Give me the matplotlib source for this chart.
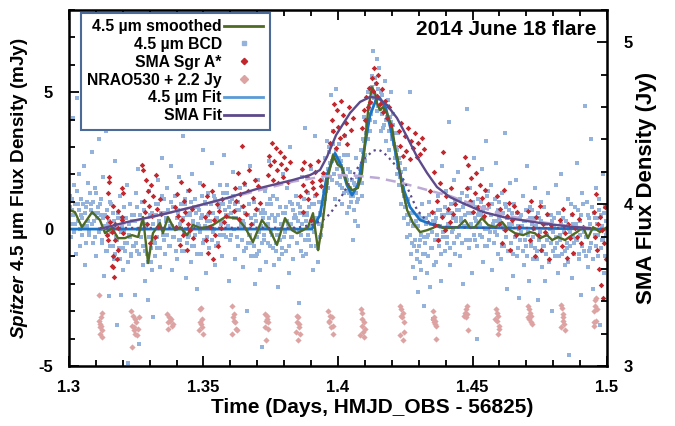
import matplotlib
matplotlib.use("Agg")
import matplotlib.pyplot as plt
from matplotlib.lines import Line2D
from matplotlib.ticker import MultipleLocator, FuncFormatter

plt.rcParams['font.family'] = ['Liberation Sans', 'DejaVu Sans']
plt.rcParams['font.weight'] = 'bold'
plt.rcParams['axes.unicode_minus'] = False
plt.rcParams['mathtext.fontset'] = 'custom'
plt.rcParams['mathtext.it'] = 'Liberation Sans:italic:bold'
plt.rcParams['mathtext.rm'] = 'Liberation Sans:bold'

# ---------------- data ----------------
# Spitzer 4.5 um BCD photometry (days, mJy), two interleaved frame sets
bcd_t = [
    1.3002, 1.3006, 1.3010, 1.3014, 1.3018, 1.3022, 1.3026, 1.3030, 1.3034, 1.3038,
    1.3042, 1.3046, 1.3050, 1.3054, 1.3058, 1.3062, 1.3066, 1.3070, 1.3074, 1.3078,
    1.3082, 1.3086, 1.3090, 1.3094, 1.3098, 1.3102, 1.3106, 1.3110, 1.3114, 1.3118,
    1.3122, 1.3126, 1.3130, 1.3134, 1.3138, 1.3142, 1.3146, 1.3150, 1.3154, 1.3158,
    1.3162, 1.3166, 1.3170, 1.3174, 1.3178, 1.3182, 1.3186, 1.3190, 1.3194, 1.3198,
    1.3202, 1.3206, 1.3210, 1.3214, 1.3218, 1.3222, 1.3226, 1.3230, 1.3234, 1.3238,
    1.3242, 1.3246, 1.3250, 1.3254, 1.3258, 1.3262, 1.3266, 1.3270, 1.3274, 1.3278,
    1.3282, 1.3286, 1.3290, 1.3294, 1.3298, 1.3302, 1.3306, 1.3310, 1.3314, 1.3318,
    1.3322, 1.3326, 1.3330, 1.3334, 1.3338, 1.3342, 1.3346, 1.3350, 1.3354, 1.3358,
    1.3362, 1.3366, 1.3370, 1.3374, 1.3378, 1.3382, 1.3386, 1.3390, 1.3394, 1.3398,
    1.3402, 1.3406, 1.3410, 1.3414, 1.3418, 1.3422, 1.3426, 1.3430, 1.3434, 1.3438,
    1.3442, 1.3446, 1.3450, 1.3454, 1.3458, 1.3462, 1.3466, 1.3470, 1.3474, 1.3478,
    1.3482, 1.3486, 1.3490, 1.3494, 1.3498, 1.3502, 1.3506, 1.3510, 1.3514, 1.3518,
    1.3522, 1.3526, 1.3530, 1.3534, 1.3538, 1.3542, 1.3546, 1.3550, 1.3554, 1.3558,
    1.3562, 1.3566, 1.3570, 1.3574, 1.3578, 1.3582, 1.3586, 1.3590, 1.3594, 1.3598,
    1.3602, 1.3606, 1.3610, 1.3614, 1.3618, 1.3622, 1.3626, 1.3630, 1.3634, 1.3638,
    1.3642, 1.3646, 1.3650, 1.3654, 1.3658, 1.3662, 1.3666, 1.3670, 1.3674, 1.3678,
    1.3682, 1.3686, 1.3690, 1.3694, 1.3698, 1.3702, 1.3706, 1.3710, 1.3714, 1.3718,
    1.3722, 1.3726, 1.3730, 1.3734, 1.3738, 1.3742, 1.3746, 1.3750, 1.3754, 1.3758,
    1.3762, 1.3766, 1.3770, 1.3774, 1.3778, 1.3782, 1.3786, 1.3790, 1.3794, 1.3798,
    1.3802, 1.3806, 1.3810, 1.3814, 1.3818, 1.3822, 1.3826, 1.3830, 1.3834, 1.3838,
    1.3842, 1.3846, 1.3850, 1.3854, 1.3858, 1.3862, 1.3866, 1.3870, 1.3874, 1.3878,
    1.3882, 1.3886, 1.3890, 1.3894, 1.3898, 1.3902, 1.3906, 1.3910, 1.3914, 1.3918,
    1.3922, 1.3926, 1.3930, 1.3934, 1.3938, 1.3942, 1.3946, 1.3950, 1.3954, 1.3958,
    1.3962, 1.3966, 1.3970, 1.3974, 1.3978, 1.3982, 1.3986, 1.3990, 1.3994, 1.3998,
    1.4002, 1.4006, 1.4010, 1.4014, 1.4018, 1.4022, 1.4026, 1.4030, 1.4034, 1.4038,
    1.4042, 1.4046, 1.4050, 1.4054, 1.4058, 1.4062, 1.4066, 1.4070, 1.4074, 1.4078,
    1.4082, 1.4086, 1.4090, 1.4094, 1.4098, 1.4102, 1.4106, 1.4110, 1.4114, 1.4118,
    1.4122, 1.4126, 1.4130, 1.4134, 1.4138, 1.4142, 1.4146, 1.4150, 1.4154, 1.4158,
    1.4162, 1.4166, 1.4170, 1.4174, 1.4178, 1.4182, 1.4186, 1.4190, 1.4194, 1.4198,
    1.4202, 1.4206, 1.4210, 1.4214, 1.4218, 1.4222, 1.4226, 1.4230, 1.4234, 1.4238,
    1.4242, 1.4246, 1.4250, 1.4254, 1.4258, 1.4262, 1.4266, 1.4270, 1.4274, 1.4278,
    1.4282, 1.4286, 1.4290, 1.4294, 1.4298, 1.4302, 1.4306, 1.4310, 1.4314, 1.4318,
    1.4322, 1.4326, 1.4330, 1.4334, 1.4338, 1.4342, 1.4346, 1.4350, 1.4354, 1.4358,
    1.4362, 1.4366, 1.4370, 1.4374, 1.4378, 1.4382, 1.4386, 1.4390, 1.4394, 1.4398,
    1.4402, 1.4406, 1.4410, 1.4414, 1.4418, 1.4422, 1.4426, 1.4430, 1.4434, 1.4438,
    1.4442, 1.4446, 1.4450, 1.4454, 1.4458, 1.4462, 1.4466, 1.4470, 1.4474, 1.4478,
    1.4482, 1.4486, 1.4490, 1.4494, 1.4498, 1.4502, 1.4506, 1.4510, 1.4514, 1.4518,
    1.4522, 1.4526, 1.4530, 1.4534, 1.4538, 1.4542, 1.4546, 1.4550, 1.4554, 1.4558,
    1.4562, 1.4566, 1.4570, 1.4574, 1.4578, 1.4582, 1.4586, 1.4590, 1.4594, 1.4598,
    1.4602, 1.4606, 1.4610, 1.4614, 1.4618, 1.4622, 1.4626, 1.4630, 1.4634, 1.4638,
    1.4642, 1.4646, 1.4650, 1.4654, 1.4658, 1.4662, 1.4666, 1.4670, 1.4674, 1.4678,
    1.4682, 1.4686, 1.4690, 1.4694, 1.4698, 1.4702, 1.4706, 1.4710, 1.4714, 1.4718,
    1.4722, 1.4726, 1.4730, 1.4734, 1.4738, 1.4742, 1.4746, 1.4750, 1.4754, 1.4758,
    1.4762, 1.4766, 1.4770, 1.4774, 1.4778, 1.4782, 1.4786, 1.4790, 1.4794, 1.4798,
    1.4802, 1.4806, 1.4810, 1.4814, 1.4818, 1.4822, 1.4826, 1.4830, 1.4834, 1.4838,
    1.4842, 1.4846, 1.4850, 1.4854, 1.4858, 1.4862, 1.4866, 1.4870, 1.4874, 1.4878,
    1.4882, 1.4886, 1.4890, 1.4894, 1.4898, 1.4902, 1.4906, 1.4910, 1.4914, 1.4918,
    1.4922, 1.4926, 1.4930, 1.4934, 1.4938, 1.4942, 1.4946, 1.4950, 1.4954, 1.4958,
    1.4962, 1.4966, 1.4970, 1.4974, 1.4978, 1.4982, 1.4986, 1.4990, 1.4994, 1.4998,
]
bcd_flux = [
    1.2, -0.3, 0.7, 4.05, 1.6, 0.2, -0.9, 4.8, 0.9, 2.0,
    -0.6, 1.1, 0.4, 2.3, -1.3, 0.8, 0.1, 1.7, -0.2, 1.3,
    0.9, 2.8, -0.5, 0.3, 1.5, -1.0, 0.6, 3.3, 0.0, 1.1,
    -0.4, 1.9, -1.7, 0.5, 3.6, -0.8, 0.2, -2.45, 1.0, -0.1,
    0.6, -1.1, 2.5, -0.3, -3.5, 0.4, -0.7, 1.2, -2.4, 0.1,
    -1.5, 0.8, -0.5, 1.6, -4.9, -0.2, 0.9, -1.0, 0.3, -0.6,
    0.5, -2.4, 1.3, -0.8, 2.2, -4.2, 0.0, 1.0, -1.3, 0.7,
    -1.9, 0.2, -0.9, -2.6, 1.4, -0.3, -1.2, 0.6, -3.2, -0.5,
    0.9, -0.7, 1.8, 0.3, -1.4, 0.6, 2.6, -0.2, 1.1, -0.9,
    0.4, 1.5, -0.6, 0.1, 2.3, -1.5, 0.8, -0.3, 1.2, 0.0,
    -1.1, 0.7, 1.9, -0.4, 0.3, 3.4, -0.8, 0.9, -1.8, 0.5,
    1.4, -0.2, 0.6, -1.2, 2.0, 0.2, -0.6, 1.1, -2.2, 0.8,
    0.1, 1.7, -0.9, 0.5, 2.9, -0.4, 1.0, -1.6, 0.3, 1.3,
    -0.7, 0.6, 2.4, -0.1, 1.2, -1.3, 0.4, 3.8, -0.5, 0.9,
    1.6, 0.2, -1.0, 0.9, 2.7, -0.3, 1.3, 0.5, -1.9, 1.0,
    -0.2, 1.1, 2.1, 0.4, -1.1, 4.0, 0.7, -0.6, 1.5, 0.1,
    0.8, -1.4, 0.2, 1.6, -0.7, -3.0, 0.5, -0.2, 2.3, -1.0,
    -0.5, 1.0, -2.0, 0.3, -0.9, 1.8, -0.1, -1.5, 0.6, -4.3,
    0.7, -0.4, 1.4, -1.2, 0.2, 2.5, -0.6, 0.9, -0.2, 1.2,
    -1.3, 0.4, -0.5, 1.1, -2.1, 0.0, 0.8, -0.9, 2.0, -0.3,
    0.6, -0.8, 1.5, 0.2, -1.6, 3.0, -0.3, 0.9, -1.1, 0.4,
    1.2, -0.5, 0.3, -2.7, 0.8, -0.2, 1.9, -1.0, 0.5, 3.7,
    -0.9, 0.6, 1.3, -0.4, 2.2, 0.1, -1.5, 0.9, 3.4, -0.6,
    0.3, -1.2, 1.0, 0.6, -0.2, 1.8, 0.9, 2.6, 1.4, 3.2,
    1.5, 3.0, 2.4, 4.9, 1.8, 3.6, 2.7, 1.1, 5.1, 2.2,
    3.1, 1.6, 2.5, 0.9, 2.2, 1.3, 3.4, 1.9, 0.6, 2.7,
    0.8, 2.1, 1.2, -0.4, 1.7, 0.3, 2.6, 1.0, 0.1, 1.9,
    1.8, 2.9, 1.2, 3.3, 4.1, 2.7, 3.8, 5.0, 4.4, 3.6,
    4.2, 5.6, 6.5, 4.8, 3.9, 5.3, 6.2, 4.5, 5.9, 3.6,
    4.9, 3.7, 4.5, 5.4, 3.2, 4.1, 4.7, 2.9, 3.9, 5.0,
    3.3, 4.2, 2.6, 3.0, 2.0, 3.5, 1.6, 2.4, 0.9, 1.8,
    1.5, 0.4, 2.2, 0.8, -0.3, 1.1, 5.0, -0.9, 0.6, -1.4,
    -0.6, -1.8, 0.3, -1.1, -2.3, 0.5, -0.4, -1.5, 0.9, -2.8,
    -0.9, 0.4, -1.6, -0.2, 1.0, -2.1, 0.2, -0.7, -3.3, 0.6,
    0.3, -1.2, 1.2, -0.4, 0.7, -1.9, 2.3, -0.1, 0.5, -0.8,
    1.4, -0.5, 0.2, 3.9, -1.3, 0.6, 0.0, 1.8, -0.9, 0.4,
    -0.3, 2.1, 0.7, -1.0, 0.4, 1.3, -2.0, 0.9, 0.1, 4.4,
    0.6, -0.7, 1.5, 0.2, -1.6, 0.9, 2.6, -0.4, 0.3, -4.0,
    1.1, -0.2, 0.5, 2.2, -1.2, 0.8, 0.0, 3.2, -0.6, 1.4,
    -0.4, 0.9, 1.6, -1.5, 0.3, -0.1, 2.4, 0.6, -0.9, 1.0,
    0.5, -1.1, 1.3, 0.1, -0.6, 3.5, 0.8, -2.2, 0.2, 1.7,
    -0.8, 0.6, -1.7, 0.9, -0.3, 1.8, -1.0, 0.1, -2.5, 0.4,
    -0.1, 1.2, -1.3, 0.3, -0.6, 2.3, -0.2, -1.9, 0.8, -0.5,
    0.7, -1.1, 0.0, 1.5, -0.8, -2.6, 0.4, -0.3, 1.0, -1.4,
    -0.6, 0.8, -1.9, 0.2, -0.4, 1.3, -1.2, 0.5, -3.0, -0.1,
    0.4, -1.0, 1.6, -0.5, -1.6, 0.6, -0.2, 2.0, -0.9, 0.1,
    -1.3, 0.3, -0.7, 1.1, -4.6, -0.1, 0.9, -1.8, 0.2, -0.5,
    0.8, -0.4, 2.4, -1.1, 0.3, -2.4, 1.3, 0.0, -0.8, 4.5,
    -0.3, 1.0, -1.4, 0.4, -0.7, 3.3, -2.2, 0.6, -0.2, 1.5,
    0.2, -1.0, 1.1, -3.5, 0.5, -0.4, 2.0, -1.6, 0.8, -0.2,
]
bcd2_t = [
    1.3004, 1.3008, 1.3012, 1.3016, 1.3020, 1.3024, 1.3028, 1.3032, 1.3036, 1.3040,
    1.3044, 1.3048, 1.3052, 1.3056, 1.3060, 1.3064, 1.3068, 1.3072, 1.3076, 1.3080,
    1.3084, 1.3088, 1.3092, 1.3096, 1.3100, 1.3104, 1.3108, 1.3112, 1.3116, 1.3120,
    1.3124, 1.3128, 1.3132, 1.3136, 1.3140, 1.3144, 1.3148, 1.3152, 1.3156, 1.3160,
    1.3164, 1.3168, 1.3172, 1.3176, 1.3180, 1.3184, 1.3188, 1.3192, 1.3196, 1.3200,
    1.3204, 1.3208, 1.3212, 1.3216, 1.3220, 1.3224, 1.3228, 1.3232, 1.3236, 1.3240,
    1.3244, 1.3248, 1.3252, 1.3256, 1.3260, 1.3264, 1.3268, 1.3272, 1.3276, 1.3280,
    1.3284, 1.3288, 1.3292, 1.3296, 1.3300, 1.3304, 1.3308, 1.3312, 1.3316, 1.3320,
    1.3324, 1.3328, 1.3332, 1.3336, 1.3340, 1.3344, 1.3348, 1.3352, 1.3356, 1.3360,
    1.3364, 1.3368, 1.3372, 1.3376, 1.3380, 1.3384, 1.3388, 1.3392, 1.3396, 1.3400,
    1.3404, 1.3408, 1.3412, 1.3416, 1.3420, 1.3424, 1.3428, 1.3432, 1.3436, 1.3440,
    1.3444, 1.3448, 1.3452, 1.3456, 1.3460, 1.3464, 1.3468, 1.3472, 1.3476, 1.3480,
    1.3484, 1.3488, 1.3492, 1.3496, 1.3500, 1.3504, 1.3508, 1.3512, 1.3516, 1.3520,
    1.3524, 1.3528, 1.3532, 1.3536, 1.3540, 1.3544, 1.3548, 1.3552, 1.3556, 1.3560,
    1.3564, 1.3568, 1.3572, 1.3576, 1.3580, 1.3584, 1.3588, 1.3592, 1.3596, 1.3600,
    1.3604, 1.3608, 1.3612, 1.3616, 1.3620, 1.3624, 1.3628, 1.3632, 1.3636, 1.3640,
    1.3644, 1.3648, 1.3652, 1.3656, 1.3660, 1.3664, 1.3668, 1.3672, 1.3676, 1.3680,
    1.3684, 1.3688, 1.3692, 1.3696, 1.3700, 1.3704, 1.3708, 1.3712, 1.3716, 1.3720,
    1.3724, 1.3728, 1.3732, 1.3736, 1.3740, 1.3744, 1.3748, 1.3752, 1.3756, 1.3760,
    1.3764, 1.3768, 1.3772, 1.3776, 1.3780, 1.3784, 1.3788, 1.3792, 1.3796, 1.3800,
    1.3804, 1.3808, 1.3812, 1.3816, 1.3820, 1.3824, 1.3828, 1.3832, 1.3836, 1.3840,
    1.3844, 1.3848, 1.3852, 1.3856, 1.3860, 1.3864, 1.3868, 1.3872, 1.3876, 1.3880,
    1.3884, 1.3888, 1.3892, 1.3896, 1.3900, 1.3904, 1.3908, 1.3912, 1.3916, 1.3920,
    1.3924, 1.3928, 1.3932, 1.3936, 1.3940, 1.3944, 1.3948, 1.3952, 1.3956, 1.3960,
    1.3964, 1.3968, 1.3972, 1.3976, 1.3980, 1.3984, 1.3988, 1.3992, 1.3996, 1.4000,
    1.4004, 1.4008, 1.4012, 1.4016, 1.4020, 1.4024, 1.4028, 1.4032, 1.4036, 1.4040,
    1.4044, 1.4048, 1.4052, 1.4056, 1.4060, 1.4064, 1.4068, 1.4072, 1.4076, 1.4080,
    1.4084, 1.4088, 1.4092, 1.4096, 1.4100, 1.4104, 1.4108, 1.4112, 1.4116, 1.4120,
    1.4124, 1.4128, 1.4132, 1.4136, 1.4140, 1.4144, 1.4148, 1.4152, 1.4156, 1.4160,
    1.4164, 1.4168, 1.4172, 1.4176, 1.4180, 1.4184, 1.4188, 1.4192, 1.4196, 1.4200,
    1.4204, 1.4208, 1.4212, 1.4216, 1.4220, 1.4224, 1.4228, 1.4232, 1.4236, 1.4240,
    1.4244, 1.4248, 1.4252, 1.4256, 1.4260, 1.4264, 1.4268, 1.4272, 1.4276, 1.4280,
    1.4284, 1.4288, 1.4292, 1.4296, 1.4300, 1.4304, 1.4308, 1.4312, 1.4316, 1.4320,
    1.4324, 1.4328, 1.4332, 1.4336, 1.4340, 1.4344, 1.4348, 1.4352, 1.4356, 1.4360,
    1.4364, 1.4368, 1.4372, 1.4376, 1.4380, 1.4384, 1.4388, 1.4392, 1.4396, 1.4400,
    1.4404, 1.4408, 1.4412, 1.4416, 1.4420, 1.4424, 1.4428, 1.4432, 1.4436, 1.4440,
    1.4444, 1.4448, 1.4452, 1.4456, 1.4460, 1.4464, 1.4468, 1.4472, 1.4476, 1.4480,
    1.4484, 1.4488, 1.4492, 1.4496, 1.4500, 1.4504, 1.4508, 1.4512, 1.4516, 1.4520,
    1.4524, 1.4528, 1.4532, 1.4536, 1.4540, 1.4544, 1.4548, 1.4552, 1.4556, 1.4560,
    1.4564, 1.4568, 1.4572, 1.4576, 1.4580, 1.4584, 1.4588, 1.4592, 1.4596, 1.4600,
    1.4604, 1.4608, 1.4612, 1.4616, 1.4620, 1.4624, 1.4628, 1.4632, 1.4636, 1.4640,
    1.4644, 1.4648, 1.4652, 1.4656, 1.4660, 1.4664, 1.4668, 1.4672, 1.4676, 1.4680,
    1.4684, 1.4688, 1.4692, 1.4696, 1.4700, 1.4704, 1.4708, 1.4712, 1.4716, 1.4720,
    1.4724, 1.4728, 1.4732, 1.4736, 1.4740, 1.4744, 1.4748, 1.4752, 1.4756, 1.4760,
    1.4764, 1.4768, 1.4772, 1.4776, 1.4780, 1.4784, 1.4788, 1.4792, 1.4796, 1.4800,
    1.4804, 1.4808, 1.4812, 1.4816, 1.4820, 1.4824, 1.4828, 1.4832, 1.4836, 1.4840,
    1.4844, 1.4848, 1.4852, 1.4856, 1.4860, 1.4864, 1.4868, 1.4872, 1.4876, 1.4880,
    1.4884, 1.4888, 1.4892, 1.4896, 1.4900, 1.4904, 1.4908, 1.4912, 1.4916, 1.4920,
    1.4924, 1.4928, 1.4932, 1.4936, 1.4940, 1.4944, 1.4948, 1.4952, 1.4956, 1.4960,
    1.4964, 1.4968, 1.4972, 1.4976, 1.4980, 1.4984, 1.4988, 1.4992, 1.4996, 1.5000,
]
bcd2_flux = [
    0.8, 0.2, 1.1, 0.5, -0.1, 0.9, 1.4, 0.3, 0.7, 0.0,
    0.5, -0.2, 0.9, 0.1, 0.6, -0.5, 1.0, 0.3, -0.1, 0.7,
    0.2, 1.0, 0.6, -0.3, 1.3, 0.4, 0.8, -0.1, 0.9, 0.5,
    -0.5, 0.4, 0.1, -0.8, 0.7, -0.2, 0.3, -0.6, 0.9, 0.0,
    -0.6, 0.3, -0.9, 0.1, -0.4, 0.6, -1.1, -0.1, 0.4, -0.7,
    -0.1, -0.8, 0.4, -0.5, -1.2, 0.2, -0.3, -0.9, 0.5, -0.6,
    0.3, -0.5, 0.8, 0.0, -0.9, 0.5, -0.3, 1.0, -0.6, 0.2,
    -0.8, 0.1, -1.2, -0.3, 0.5, -0.7, -1.5, 0.2, -0.4, -1.0,
    0.5, -0.3, 0.9, 0.2, -0.7, 1.2, 0.0, -0.4, 0.6, 0.3,
    -0.2, 0.7, 0.3, -0.6, 1.0, 0.1, -0.3, 0.8, -0.8, 0.4,
    0.6, -0.4, 0.2, 0.9, -0.8, 0.4, -0.1, 1.1, 0.0, -0.5,
    -0.3, 0.5, 1.0, -0.6, 0.3, 0.8, -0.2, 0.6, -0.9, 0.2,
    0.7, -0.1, 0.4, 1.2, -0.5, 0.1, 0.9, -0.3, 0.5, -0.7,
    0.3, 0.9, -0.4, 0.6, 0.0, 1.1, -0.6, 0.4, 0.8, -0.2,
    0.9, 0.3, 1.3, -0.2, 0.7, 0.5, 1.6, 0.1, 0.8, -0.4,
    0.6, 1.2, 0.0, 0.9, 0.4, -0.3, 1.0, 0.7, 1.5, 0.2,
    -0.4, 0.3, -0.8, 0.6, 0.0, -0.5, 0.9, -0.2, 0.4, -1.0,
    0.2, -0.6, 0.5, -1.0, -0.3, 0.7, -0.8, 0.1, -0.5, 0.4,
    -0.2, 0.6, 0.1, 0.9, -0.5, 0.4, 1.1, -0.1, 0.5, -0.7,
    0.3, -0.8, -0.2, 0.5, -1.1, -0.4, 0.2, -0.7, 0.6, -0.3,
    -0.1, 0.8, 0.3, -0.6, 1.0, 0.2, -0.3, 0.7, 0.0, 0.5,
    0.4, -0.5, 0.9, -0.1, 0.6, -0.8, 0.2, 1.1, -0.4, 0.3,
    0.5, -0.2, 0.8, 0.1, -0.6, 0.9, 0.3, -0.1, 1.2, 0.4,
    -0.7, 0.2, -0.3, 0.5, 0.1, 0.9, 1.4, 1.1, 2.0, 1.7,
    2.2, 2.8, 1.9, 2.5, 3.1, 2.0, 2.6, 2.9, 1.7, 2.4,
    2.6, 1.9, 2.3, 1.5, 2.0, 2.7, 1.4, 1.8, 2.2, 1.3,
    1.5, 1.0, 1.8, 1.2, 0.7, 1.6, 1.3, 1.9, 1.1, 2.2,
    2.3, 1.7, 2.8, 3.2, 2.5, 3.5, 3.9, 3.3, 4.5, 4.0,
    4.6, 5.2, 4.9, 5.5, 4.7, 4.3, 5.1, 4.8, 4.4, 5.0,
    4.2, 4.6, 3.8, 4.4, 4.0, 4.5, 3.6, 4.1, 3.9, 3.4,
    3.8, 3.1, 3.5, 2.7, 2.9, 2.3, 2.6, 1.9, 2.1, 1.4,
    1.2, 0.8, 1.0, 0.5, 0.2, 0.6, -0.2, 0.3, -0.5, 0.1,
    0.2, -0.4, -0.8, 0.1, -0.6, -1.2, -0.2, 0.4, -0.9, -0.3,
    -0.5, 0.2, -0.3, -1.0, 0.5, -0.7, -0.1, 0.3, -1.3, -0.4,
    0.4, -0.2, 0.7, -0.6, 0.1, -0.9, 0.5, -0.3, 0.8, 0.0,
    -0.3, 0.6, 0.2, -0.7, 0.9, -0.1, 0.4, -0.5, 1.0, 0.3,
    0.7, -0.2, 1.1, 0.3, -0.5, 0.8, 0.1, 0.5, -0.4, 1.2,
    0.1, 0.9, -0.4, 0.6, 1.0, -0.2, 0.4, 0.8, -0.6, 0.5,
    0.6, 0.2, 1.0, -0.3, 0.7, 0.4, -0.6, 1.2, 0.0, 0.8,
    -0.1, 0.5, 0.9, 0.2, -0.5, 1.1, 0.3, -0.2, 0.7, 0.4,
    0.3, -0.6, 0.6, 0.0, 0.9, -0.3, 0.4, -0.8, 0.7, 0.1,
    -0.5, 0.2, -0.9, 0.4, -0.2, 0.6, -0.7, 0.0, -0.4, 0.5,
    0.1, -0.8, 0.3, -0.4, 0.7, -1.0, -0.1, 0.4, -0.6, 0.2,
    -0.3, 0.4, -0.7, 0.1, -1.1, 0.6, -0.4, -0.1, 0.3, -0.8,
    -0.6, 0.2, -0.9, -0.2, 0.5, -1.2, 0.0, -0.5, 0.3, -0.8,
    0.1, -0.7, -0.3, 0.6, -1.0, -0.4, 0.2, -0.9, 0.4, -0.1,
    -0.8, 0.3, -0.5, -1.2, 0.0, -0.6, 0.5, -0.3, -0.9, 0.2,
    0.2, -0.4, 0.7, -0.9, -0.2, 0.5, -0.6, 0.9, -0.1, -1.0,
    -0.3, 0.5, -0.8, 0.2, -0.5, 0.8, -1.1, 0.0, 0.4, -0.6,
    0.4, -0.2, 0.7, -0.7, 0.1, -0.4, 0.6, -1.0, 0.3, -0.1,
]

# 4.5 um smoothed light curve (mJy)
smooth_t = [1.3004, 1.3022, 1.3048, 1.3086, 1.3115, 1.3134, 1.3160, 1.3182, 1.3208, 1.3234,
            1.3257, 1.3275, 1.3294, 1.3312, 1.3338, 1.3349, 1.3368, 1.3394, 1.3413, 1.3439,
            1.3461, 1.3487, 1.3513, 1.3535, 1.3580, 1.3625, 1.3654, 1.3684, 1.3717, 1.3747,
            1.3773, 1.3803, 1.3829, 1.3848, 1.3870, 1.3888, 1.3907, 1.3926, 1.3944, 1.3963,
            1.3981, 1.4000, 1.4015, 1.4033, 1.4052, 1.4074, 1.4089, 1.4100, 1.4112, 1.4126,
            1.4138, 1.4145, 1.4156, 1.4167, 1.4182, 1.4201, 1.4212, 1.4223, 1.4238, 1.4257,
            1.4279, 1.4305, 1.4331, 1.4353, 1.4372, 1.4390, 1.4416, 1.4446, 1.4472, 1.4491,
            1.4509, 1.4535, 1.4558, 1.4584, 1.4610, 1.4628, 1.4658, 1.4688, 1.4714, 1.4732,
            1.4751, 1.4777, 1.4796, 1.4818, 1.4844, 1.4870, 1.4888, 1.4911, 1.4929, 1.4948,
            1.4974, 1.5000]
smooth_flux = [0.69, 0.62, 0.07, 0.62, 0.33, -0.15, 0.04, -0.33, -0.33, -0.22,
               -0.29, 0.44, -1.24, -0.15, 0.22, -0.15, 0.44, -0.04, 0.07, -0.22,
               0.15, 0.04, 0.07, 0.15, 0.44, 0.40, 0.07, -0.47, 0.33, -0.04,
               -0.58, 0.40, -0.04, -0.15, -0.04, 0.07, 0.58, -0.77, 0.33, 1.90,
               2.70, 2.34, 2.26, 1.68, 1.42, 1.50, 2.04, 3.14, 4.34, 5.18,
               4.96, 4.60, 4.34, 4.45, 4.23, 3.72, 2.99, 2.52, 1.53, 0.69,
               0.22, -0.11, -0.04, 0.04, 0.15, 0.04, 0.04, 0.07, 0.33, 0.04,
               0.07, 0.40, 0.15, 0.07, 0.26, 0.04, -0.15, -0.22, -0.11, -0.15,
               -0.33, -0.22, -0.40, -0.29, -0.40, -0.22, -0.11, 0.07, -0.33, 0.07,
               -0.11, 0.07]

# 4.5 um model fit (mJy)
fit_t = [1.3000, 1.3903, 1.3933, 1.3959, 1.3989, 1.4011, 1.4033, 1.4052, 1.4074, 1.4097,
         1.4119, 1.4141, 1.4156, 1.4178, 1.4201, 1.4223, 1.4245, 1.4268, 1.4305, 1.4379,
         1.5000]
fit_flux = [0.0, 0.0, 0.51, 1.97, 2.77, 2.34, 1.61, 1.24, 1.61, 2.88,
            4.16, 4.71, 4.78, 4.42, 3.43, 2.34, 1.42, 0.80, 0.33, 0.07,
            0.0]

# SMA Sgr A* (Jy)
sma_t = [
    1.3150, 1.3150, 1.3196, 1.3200, 1.3146, 1.3165, 1.3183, 1.3196, 1.3140, 1.3152,
    1.3171, 1.3183, 1.3159, 1.3140, 1.3146, 1.3171, 1.3165, 1.3177, 1.3159, 1.3165,
    1.3168, 1.3183, 1.3196, 1.3200,
    1.3272, 1.3275, 1.3279, 1.3282, 1.3286, 1.3290, 1.3293, 1.3297, 1.3301, 1.3305,
    1.3309, 1.3313, 1.3318, 1.3322, 1.3327, 1.3332, 1.3337, 1.3342,
    1.3395, 1.3399, 1.3403, 1.3407, 1.3411, 1.3415, 1.3419, 1.3424, 1.3428, 1.3432,
    1.3437, 1.3441, 1.3446, 1.3451, 1.3456, 1.3462,
    1.3500, 1.3504, 1.3508, 1.3513, 1.3517, 1.3521, 1.3526, 1.3530, 1.3535, 1.3540,
    1.3544, 1.3549, 1.3554, 1.3559, 1.3564, 1.3570, 1.3576, 1.3582,
    1.3612, 1.3617, 1.3622, 1.3627, 1.3632, 1.3637, 1.3642, 1.3647, 1.3652, 1.3658,
    1.3664, 1.3670, 1.3676, 1.3683, 1.3690, 1.3697, 1.3704, 1.3711,
    1.3738, 1.3743, 1.3748, 1.3753, 1.3758, 1.3763, 1.3768, 1.3773, 1.3778, 1.3783,
    1.3789, 1.3795, 1.3801, 1.3807, 1.3813, 1.3820,
    1.3860, 1.3865, 1.3870, 1.3875, 1.3880, 1.3885, 1.3890, 1.3896, 1.3902, 1.3908,
    1.3914, 1.3920, 1.3926, 1.3932, 1.3938, 1.3945, 1.3871, 1.3899,
    1.3971, 1.3976, 1.3981, 1.3986, 1.3991, 1.3996, 1.4001, 1.4006, 1.4011, 1.4017,
    1.4023, 1.4029, 1.4035, 1.4041, 1.4048, 1.4055,
    1.4090, 1.4095, 1.4100, 1.4105, 1.4110, 1.4115, 1.4120, 1.4125, 1.4130, 1.4135,
    1.4140, 1.4145, 1.4150, 1.4156, 1.4162, 1.4168, 1.4175, 1.4182, 1.4190, 1.4198,
    1.4225, 1.4230, 1.4236, 1.4242, 1.4248, 1.4254, 1.4260, 1.4266, 1.4272, 1.4278,
    1.4285, 1.4292, 1.4299, 1.4306, 1.4313, 1.4320,
    1.4343, 1.4349, 1.4355, 1.4361, 1.4367, 1.4373, 1.4379, 1.4385, 1.4391, 1.4397,
    1.4403, 1.4409, 1.4415, 1.4421, 1.4428, 1.4436,
    1.4472, 1.4478, 1.4484, 1.4490, 1.4496, 1.4502, 1.4508, 1.4514, 1.4520, 1.4527,
    1.4534, 1.4541, 1.4548, 1.4556,
    1.4592, 1.4598, 1.4604, 1.4610, 1.4616, 1.4622, 1.4628, 1.4634, 1.4640, 1.4646,
    1.4653, 1.4660, 1.4667, 1.4674,
    1.4707, 1.4713, 1.4719, 1.4725, 1.4731, 1.4737, 1.4743, 1.4749, 1.4755, 1.4762,
    1.4769, 1.4776, 1.4783, 1.4790,
    1.4826, 1.4832, 1.4838, 1.4844, 1.4850, 1.4856, 1.4862, 1.4868, 1.4874, 1.4881,
    1.4888, 1.4895, 1.4902, 1.4910,
    1.4950, 1.4954, 1.4958, 1.4962, 1.4966, 1.4970, 1.4974, 1.4978, 1.4982, 1.4986,
    1.4990, 1.4994, 1.4998,
]
sma_jy = [
    4.17, 4.14, 4.10, 4.07, 4.07, 3.99, 3.96, 3.92, 3.92, 3.89,
    3.88, 3.85, 3.83, 3.81, 3.78, 3.78, 3.68, 3.66, 3.62, 3.61,
    3.55, 3.72, 3.90, 3.82,
    4.24, 4.21, 4.02, 3.95, 4.15, 3.88, 4.08, 3.99, 3.76, 4.12,
    3.93, 4.05, 3.80, 4.18, 3.97, 3.86, 4.03, 3.94,
    3.98, 3.86, 4.06, 3.93, 3.75, 4.14, 3.90, 3.81, 4.02, 3.95,
    3.72, 3.88, 4.09, 3.84, 3.97, 3.79,
    4.12, 3.92, 3.78, 4.05, 3.70, 3.95, 3.86, 4.08, 3.66, 3.90,
    3.81, 4.00, 3.74, 3.96, 3.85, 4.03, 3.89, 3.93,
    3.96, 4.10, 4.02, 4.19, 3.91, 4.06, 4.36, 3.99, 4.13, 3.94,
    4.08, 4.21, 3.88, 4.04, 4.15, 3.97, 4.11, 4.01,
    4.18, 4.30, 4.24, 4.38, 4.15, 4.27, 4.35, 4.21, 4.13, 4.32,
    4.25, 4.17, 4.29, 4.22, 4.14, 4.26,
    4.05, 4.22, 4.12, 4.26, 4.08, 4.17, 4.03, 4.24, 4.14, 4.10,
    4.20, 4.06, 4.27, 4.15, 4.11, 4.19, 3.95, 3.90,
    4.38, 4.52, 4.45, 4.62, 4.35, 4.58, 4.48, 4.41, 4.64, 4.55,
    4.43, 4.50, 4.37, 4.60, 4.46, 4.53,
    4.47, 4.58, 4.52, 4.66, 4.60, 4.72, 4.63, 4.78, 4.70, 4.84,
    4.75, 4.67, 4.80, 4.62, 4.71, 4.57, 4.64, 4.53, 4.60, 4.49,
    4.45, 4.36, 4.50, 4.30, 4.42, 4.33, 4.47, 4.28, 4.39, 4.35,
    4.44, 4.29, 4.38, 4.31, 4.41, 4.34,
    4.08, 3.95, 4.20, 3.87, 4.02, 3.78, 4.13, 3.92, 4.32, 3.84,
    4.05, 3.97, 3.89, 4.10, 3.94, 4.00,
    4.29, 4.10, 4.24, 4.02, 4.16, 3.95, 4.07, 4.19, 3.98, 4.12,
    4.04, 3.93, 4.09, 4.00,
    4.05, 3.88, 3.97, 3.76, 4.09, 3.84, 3.93, 4.01, 3.72, 3.90,
    3.99, 3.81, 3.95, 3.86,
    3.96, 3.78, 4.02, 3.85, 3.68, 3.92, 3.81, 3.99, 3.72, 3.88,
    3.83, 3.94, 3.66, 3.87,
    3.90, 3.74, 3.97, 3.82, 3.67, 3.88, 3.79, 3.94, 3.70, 3.85,
    3.80, 3.91, 3.76, 3.86,
    3.95, 3.80, 4.06, 3.72, 3.88, 3.60, 3.92, 3.50, 3.84, 3.42,
    3.76, 3.98, 3.66,
]

# NRAO530 calibrator + 2.2 Jy
nrao_t = [
    1.3113, 1.3121, 1.3118, 1.3116, 1.3120, 1.3114, 1.3122, 1.3117, 1.3124, 1.3112,
    1.3230, 1.3238, 1.3244, 1.3250, 1.3235, 1.3256, 1.3241, 1.3247, 1.3252, 1.3233, 1.3260, 1.3243,
    1.3365, 1.3371, 1.3378, 1.3369, 1.3382, 1.3374, 1.3367, 1.3386,
    1.3486, 1.3490, 1.3493, 1.3488, 1.3496, 1.3499, 1.3485, 1.3492,
    1.3605, 1.3612, 1.3609, 1.3616, 1.3620, 1.3607, 1.3623, 1.3614,
    1.3727, 1.3735, 1.3731, 1.3738, 1.3729, 1.3741, 1.3733, 1.3736,
    1.3846, 1.3852, 1.3849, 1.3856, 1.3844, 1.3859, 1.3850, 1.3854,
    1.3962, 1.3970, 1.3976, 1.3967, 1.3980, 1.3973, 1.3983, 1.3965,
    1.4085, 1.4091, 1.4098, 1.4088, 1.4101, 1.4094, 1.4083, 1.4096, 1.4090,
    1.4229, 1.4234, 1.4240, 1.4236, 1.4244, 1.4247, 1.4231, 1.4242, 1.4238,
    1.4352, 1.4358, 1.4361, 1.4355, 1.4364, 1.4359, 1.4366, 1.4354,
    1.4480, 1.4476, 1.4472, 1.4469, 1.4474, 1.4483, 1.4478,
    1.4587, 1.4591, 1.4594, 1.4590, 1.4597, 1.4599, 1.4593, 1.4585,
    1.4706, 1.4709, 1.4713, 1.4716, 1.4711, 1.4719, 1.4721, 1.4708,
    1.4828, 1.4832, 1.4838, 1.4835, 1.4841, 1.4830, 1.4843, 1.4836,
    1.4960, 1.4957, 1.4955, 1.4952, 1.4959, 1.4950, 1.4953, 1.4962,
]
nrao_jy = [
    3.44, 3.33, 3.30, 3.26, 3.25, 3.24, 3.22, 3.20, 3.18, 3.28,
    3.34, 3.31, 3.29, 3.27, 3.25, 3.23, 3.22, 3.20, 3.19, 3.12, 3.30, 3.24,
    3.32, 3.30, 3.29, 3.27, 3.25, 3.28, 3.23, 3.26,
    3.35, 3.36, 3.29, 3.27, 3.24, 3.20, 3.22, 3.26,
    3.37, 3.32, 3.30, 3.27, 3.23, 3.20, 3.22, 3.28,
    3.32, 3.31, 3.28, 3.27, 3.24, 3.23, 3.16, 3.29,
    3.31, 3.30, 3.27, 3.24, 3.21, 3.20, 3.16, 3.26,
    3.34, 3.31, 3.30, 3.27, 3.25, 3.24, 3.20, 3.28,
    3.35, 3.33, 3.27, 3.25, 3.23, 3.21, 3.19, 3.18, 3.29,
    3.37, 3.35, 3.33, 3.31, 3.27, 3.21, 3.19, 3.16, 3.30,
    3.34, 3.30, 3.28, 3.27, 3.25, 3.26, 3.17, 3.29,
    3.37, 3.35, 3.33, 3.31, 3.30, 3.22, 3.32,
    3.35, 3.33, 3.31, 3.28, 3.25, 3.23, 3.20, 3.29,
    3.37, 3.35, 3.33, 3.31, 3.29, 3.27, 3.26, 3.30,
    3.38, 3.36, 3.32, 3.28, 3.26, 3.24, 3.22, 3.30,
    3.42, 3.41, 3.37, 3.34, 3.28, 3.27, 3.25, 3.35,
]

# SMA model: total fit, broad and narrow components (Jy)
smafit_t = [1.3115, 1.3216, 1.3338, 1.3461, 1.3587, 1.3710, 1.3833, 1.3896, 1.3933, 1.3959,
            1.3993, 1.4045, 1.4082, 1.4119, 1.4149, 1.4182, 1.4219, 1.4257, 1.4294, 1.4331,
            1.4368, 1.4416, 1.4454, 1.4539, 1.4628, 1.4751, 1.4874, 1.4937]
smafit_jy = [3.847, 3.890, 3.933, 3.983, 4.038, 4.100, 4.150, 4.180, 4.211, 4.292,
             4.428, 4.564, 4.632, 4.663, 4.656, 4.613, 4.533, 4.415, 4.292, 4.193,
             4.106, 4.044, 4.014, 3.952, 3.915, 3.884, 3.859, 3.853]
broad_t = [1.3115, 1.3338, 1.3587, 1.3833, 1.3940, 1.4000, 1.4070, 1.4150, 1.4238, 1.4331,
           1.4416, 1.4539, 1.4628, 1.4751, 1.4874, 1.4937]
broad_jy = [3.847, 3.933, 4.035, 4.140, 4.170, 4.180, 4.176, 4.162, 4.131, 4.088,
            4.051, 3.977, 3.930, 3.890, 3.862, 3.853]
narrow_t = [1.3115, 1.3850, 1.3907, 1.3944, 1.3970, 1.4000, 1.4033, 1.4063, 1.4093, 1.4130,
            1.4149, 1.4167, 1.4190, 1.4219, 1.4257, 1.4294, 1.4320, 1.4342, 1.4390, 1.4500,
            1.4937]
narrow_jy = [3.853, 3.855, 3.875, 3.902, 3.940, 4.010, 4.106, 4.200, 4.273, 4.330,
             4.338, 4.323, 4.285, 4.230, 4.106, 3.964, 3.915, 3.884, 3.860, 3.853,
             3.853]

# ---------------- plot ----------------
c_bcd = '#93b3dd'
c_sma = '#c1272d'
c_nrao = '#dda3a3'
c_smooth = '#4e6b24'
c_fit = '#1a74c6'
c_smafit = '#5d4a8a'
c_broad = '#bcaad6'

fig = plt.figure(figsize=(6.75, 4.26), dpi=100)
ax = fig.add_axes([0.1022, 0.1408, 0.7971, 0.8357])
ax2 = ax.twinx()

ax.scatter(bcd_t + bcd2_t, bcd_flux + bcd2_flux, marker='s', s=6, color=c_bcd, linewidths=0, zorder=1)
ax.plot(fit_t, fit_flux, color=c_fit, lw=2.0, zorder=3)
ax.plot(smooth_t, smooth_flux, color=c_smooth, lw=1.7, zorder=4)

ax2.scatter(nrao_t, nrao_jy, marker='D', s=10, color=c_nrao, linewidths=0)
ax2.scatter(sma_t, sma_jy, marker='D', s=8, color=c_sma, linewidths=0)
ax2.plot(broad_t, broad_jy, color=c_broad, lw=1.8, ls=(0, (4, 2.5)))
ax2.plot(narrow_t, narrow_jy, color=c_smafit, lw=1.6, ls=(0, (1, 1.8)))
ax2.plot(smafit_t, smafit_jy, color=c_smafit, lw=1.7)

ax.set_xlim(1.3, 1.5)
ax.set_ylim(-5, 8)
ax2.set_ylim(3, 5.2)

fmt = FuncFormatter(lambda v, p: '%g' % round(v, 3))
ax.xaxis.set_major_locator(MultipleLocator(0.05))
ax.xaxis.set_minor_locator(MultipleLocator(0.01))
ax.xaxis.set_major_formatter(fmt)
ax.yaxis.set_major_locator(MultipleLocator(5))
ax.yaxis.set_minor_locator(MultipleLocator(1))
ax.yaxis.set_major_formatter(fmt)
ax2.yaxis.set_major_locator(MultipleLocator(1))
ax2.yaxis.set_minor_locator(MultipleLocator(0.2))
ax2.yaxis.set_major_formatter(fmt)

ax.tick_params(which='both', direction='in', top=True, width=1.3, labelsize=12)
ax.tick_params(axis='x', pad=10)
ax.tick_params(axis='y', pad=11.5)
ax.tick_params(which='major', length=7)
ax.tick_params(which='minor', length=4)
ax2.tick_params(which='both', direction='in', width=1.3, labelsize=12, pad=12)
ax2.tick_params(which='major', length=7)
ax2.tick_params(which='minor', length=4)
for sp in ax2.spines.values():
    sp.set_linewidth(1.8)

ax.set_xlabel('Time (Days, HMJD_OBS - 56825)', fontsize=15, fontweight='bold')
ax.xaxis.set_label_coords(0.563, -0.09)
ax.set_ylabel(r'$\it{Spitzer}$ 4.5 µm Flux Density (mJy)', fontsize=13.6, fontweight='bold')
ax.yaxis.set_label_coords(-0.073, 0.5)
ax2.set_ylabel('SMA Flux Density (Jy)', fontsize=16, fontweight='bold')
ax2.yaxis.set_label_coords(1.053, 0.5)

ax2.text(0.981, 0.972, '2014 June 18 flare', transform=ax2.transAxes, ha='right', va='top',
         fontsize=15, fontweight='bold')

handles = [
    Line2D([], [], color=c_smooth, lw=2),
    Line2D([], [], color=c_bcd, marker='s', ls='none', ms=3.5),
    Line2D([], [], color=c_sma, marker='D', ls='none', ms=3.2),
    Line2D([], [], color=c_nrao, marker='D', ls='none', ms=3.6),
    Line2D([], [], color='#5b9bd5', lw=2),
    Line2D([], [], color=c_smafit, lw=2),
]
labels = ['4.5 µm smoothed', '4.5 µm BCD', 'SMA Sgr A*', 'NRAO530 + 2.2 Jy', '4.5 µm Fit', 'SMA Fit']
leg = ax2.legend(handles, labels, loc='upper left', bbox_to_anchor=(0.022, 0.992), borderaxespad=0,
                 markerfirst=False, fancybox=False, framealpha=1, edgecolor='#4b6a97',
                 prop={'weight': 'bold', 'size': 11.3}, handlelength=2.5, handletextpad=0.15,
                 labelspacing=0.18, borderpad=0.4)
leg.get_frame().set_linewidth(1.5)

fig.savefig('out.png', dpi=100)
